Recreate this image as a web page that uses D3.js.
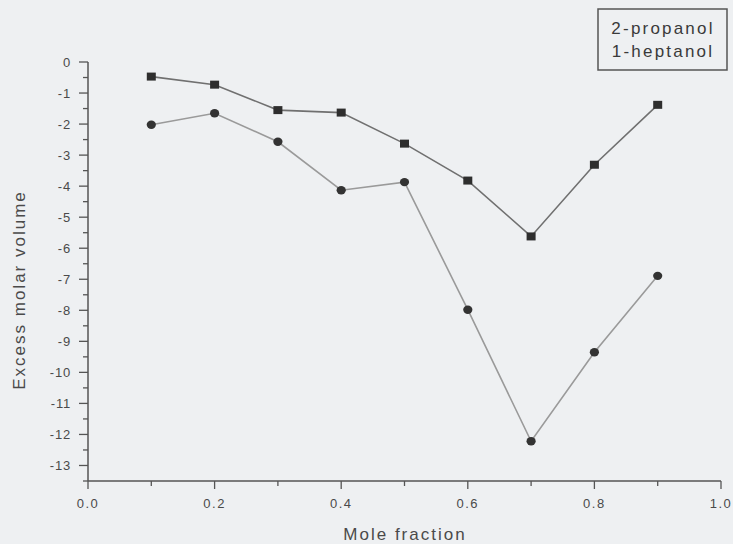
<!DOCTYPE html>
<html lang="en">
<head>
<meta charset="UTF-8">
<title>Excess molar volume</title>
<script src="https://d3js.org/d3.v7.min.js"></script>
<style>
  body { margin: 0; background: #eef0f2; }
  svg { display: block; font-family: "Liberation Sans", Arial, sans-serif; }
</style>
</head>
<body>
<script>
  // data
  const moleFraction = [0.1, 0.2, 0.3, 0.4, 0.5, 0.6, 0.7, 0.8, 0.9];
  const propanol = [-0.47, -0.73, -1.55, -1.63, -2.63, -3.82, -5.62, -3.31, -1.38];
  const heptanol = [-2.02, -1.65, -2.57, -4.13, -3.87, -7.98, -12.22, -9.35, -6.89];
  const seriesNames = ["2-propanol", "1-heptanol"];
  const xTicks = [0, 0.2, 0.4, 0.6, 0.8, 1.0];
  const yTicks = [0, -1, -2, -3, -4, -5, -6, -7, -8, -9, -10, -11, -12, -13];

  const width = 733, height = 544;
  const margin = {left: 88, right: 12, top: 62, bottom: 63};

  const svg = d3.select("body").append("svg")
      .attr("width", width)
      .attr("height", height);

  const x = d3.scaleLinear().domain([0, 1]).range([margin.left, 721]);
  const y = d3.scaleLinear().domain([-13.5, 0]).range([height - margin.bottom, margin.top]);

  const axisColor = "#555";
  const textColor = "#4a4a4a";

  // y axis: major ticks every 1, minor every 0.5
  const yMinor = d3.range(-13.5, 0.01, 0.5);
  const yAxis = svg.append("g").attr("transform", `translate(${x(0)},0)`);
  yAxis.append("line")
      .attr("y1", y(0)).attr("y2", y(-13.5))
      .attr("stroke", axisColor).attr("stroke-width", 1.5);
  yAxis.selectAll("line.minor").data(yMinor).enter().append("line")
      .attr("class", "minor")
      .attr("x1", d => Number.isInteger(d) ? -9 : -5).attr("x2", 0)
      .attr("y1", d => y(d)).attr("y2", d => y(d))
      .attr("stroke", axisColor).attr("stroke-width", 1.3);
  yAxis.selectAll("text").data(yTicks).enter().append("text")
      .attr("x", -17).attr("y", d => y(d) + 4.5)
      .attr("text-anchor", "end")
      .attr("font-size", 13).attr("fill", textColor)
      .attr("letter-spacing", 0.8)
      .text(d => d);

  // x axis: major every 0.2, minor every 0.1
  const xMinor = d3.range(0, 1.001, 0.1);
  const xAxis = svg.append("g").attr("transform", `translate(0,${y(-13.5)})`);
  xAxis.append("line")
      .attr("x1", x(0)).attr("x2", x(1))
      .attr("stroke", axisColor).attr("stroke-width", 1.5);
  xAxis.selectAll("line.tick").data(xMinor).enter().append("line")
      .attr("class", "tick")
      .attr("x1", d => x(d)).attr("x2", d => x(d))
      .attr("y1", 0).attr("y2", (d, i) => i % 2 === 0 ? 8 : 5)
      .attr("stroke", axisColor).attr("stroke-width", 1.3);
  xAxis.selectAll("text").data(xTicks).enter().append("text")
      .attr("x", d => x(d)).attr("y", 27)
      .attr("text-anchor", "middle")
      .attr("font-size", 13).attr("fill", textColor)
      .attr("letter-spacing", 1.5)
      .text(d => d.toFixed(1));

  // axis titles
  svg.append("text")
      .attr("x", 405).attr("y", 540)
      .attr("text-anchor", "middle")
      .attr("font-size", 17).attr("fill", textColor)
      .attr("letter-spacing", 2)
      .text("Mole fraction");
  svg.append("text")
      .attr("transform", "translate(25,290) rotate(-90)")
      .attr("text-anchor", "middle")
      .attr("font-size", 17).attr("fill", textColor)
      .attr("letter-spacing", 2)
      .text("Excess molar volume");

  // lines and markers
  const line = d3.line().x(d => x(d[0])).y(d => y(d[1]));
  const sqData = moleFraction.map((m, i) => [m, propanol[i]]);
  const ciData = moleFraction.map((m, i) => [m, heptanol[i]]);

  svg.append("path").datum(sqData)
      .attr("d", line).attr("fill", "none")
      .attr("stroke", "#707070").attr("stroke-width", 1.6);
  svg.append("path").datum(ciData)
      .attr("d", line).attr("fill", "none")
      .attr("stroke", "#9a9a9a").attr("stroke-width", 1.6);

  svg.selectAll("rect.sq").data(sqData).enter().append("rect")
      .attr("class", "sq")
      .attr("x", d => x(d[0]) - 4.5).attr("y", d => y(d[1]) - 4)
      .attr("width", 9).attr("height", 8)
      .attr("fill", "#2e2e2e");
  svg.selectAll("ellipse.ci").data(ciData).enter().append("ellipse")
      .attr("class", "ci")
      .attr("cx", d => x(d[0])).attr("cy", d => y(d[1]))
      .attr("rx", 4.6).attr("ry", 4.2)
      .attr("fill", "#333");

  // legend box
  const legend = svg.append("g");
  legend.append("rect")
      .attr("x", 598).attr("y", 9)
      .attr("width", 129).attr("height", 61)
      .attr("fill", "none").attr("stroke", "#555").attr("stroke-width", 1.5);
  legend.selectAll("text").data(seriesNames).enter().append("text")
      .attr("x", 663).attr("y", (d, i) => 34 + i * 23)
      .attr("text-anchor", "middle")
      .attr("font-size", 17).attr("fill", "#3a3a3a")
      .attr("letter-spacing", 2.2)
      .text(d => d);
</script>
</body>
</html>
